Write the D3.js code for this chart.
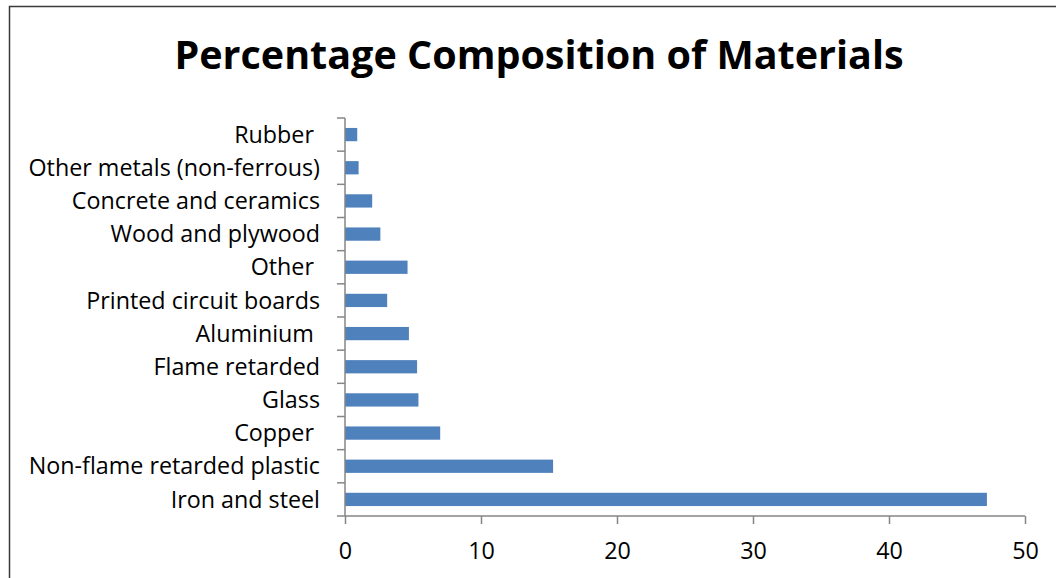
<!DOCTYPE html>
<html>
<head>
<meta charset="utf-8">
<script src="https://cdn.jsdelivr.net/npm/d3@7"></script>
<style>
  html, body { margin: 0; padding: 0; background: #fff; }
  svg { display: block; }
  text { font-family: "Open Sans", sans-serif; fill: #000; font-variant-ligatures: none; }
</style>
</head>
<body>
<svg id="chart" width="1056" height="578"></svg>
<script>
// Materials, listed top to bottom as they appear on the category axis
const categories = [
  "Rubber ",
  "Other metals (non-ferrous)",
  "Concrete and ceramics",
  "Wood and plywood",
  "Other ",
  "Printed circuit boards",
  "Aluminium ",
  "Flame retarded",
  "Glass",
  "Copper ",
  "Non-flame retarded plastic",
  "Iron and steel"
];
// Percentage share of each material
const values = [0.9, 1.0, 2.0, 2.6, 4.6, 3.1, 4.7, 5.3, 5.4, 7.0, 15.3, 47.2];
const xTicks = [0, 10, 20, 30, 40, 50];
const titleText = "Percentage Composition of Materials";

const svg = d3.select("#chart");
const W = 1056, H = 578;

// Chart frame (only top and left edges fall inside the view)
svg.append("path")
  .attr("d", `M9.5,${H} L9.5,6.5 L${W},6.5`)
  .attr("fill", "none")
  .attr("stroke", "#3a3a3a")
  .attr("stroke-width", 1.5);

// Title
svg.append("text")
  .attr("x", 539)
  .attr("y", 69)
  .attr("text-anchor", "middle")
  .attr("font-size", 39.5)
  .attr("font-weight", "bold")
  .text(titleText);

const x = d3.scaleLinear().domain([0, 50]).range([345, 1025]);
const y = d3.scaleBand()
  .domain(categories)
  .range([118, 516])
  .paddingInner(0.6)
  .paddingOuter(0.3);

const axisColor = "#868686";
const labelSize = 23.3;

// Bars
svg.append("g")
  .selectAll("rect")
  .data(categories.map((c, i) => ({ c, v: values[i] })))
  .join("rect")
  .attr("x", x(0))
  .attr("y", d => y(d.c))
  .attr("width", d => x(d.v) - x(0))
  .attr("height", y.bandwidth())
  .attr("fill", "#4f81bd");

// Category axis: line plus tick marks at the band boundaries
const step = y.step();
const y0 = y.range()[0];
const gy = svg.append("g");
gy.append("line")
  .attr("x1", x(0)).attr("x2", x(0))
  .attr("y1", y0).attr("y2", y.range()[1])
  .attr("stroke", axisColor).attr("stroke-width", 1.5);
gy.selectAll("line.tick")
  .data(d3.range(categories.length + 1))
  .join("line")
  .attr("class", "tick")
  .attr("x1", x(0) - 8).attr("x2", x(0))
  .attr("y1", i => y0 + i * step).attr("y2", i => y0 + i * step)
  .attr("stroke", axisColor).attr("stroke-width", 1.5);
gy.selectAll("text")
  .data(categories)
  .join("text")
  .attr("x", 320)
  .attr("y", d => y(d) + y.bandwidth() / 2)
  .attr("dy", "0.35em")
  .attr("text-anchor", "end")
  .attr("font-size", labelSize)
  .attr("xml:space", "preserve")
  .style("white-space", "pre")
  .text(d => d);

// Value axis
const xAxis = d3.axisBottom(x)
  .tickValues(xTicks)
  .tickSize(8)
  .tickPadding(18)
  .tickFormat(d3.format("d"));
const gx = svg.append("g")
  .attr("transform", `translate(0,${y.range()[1]})`)
  .call(xAxis);
gx.select(".domain")
  .attr("d", `M${x(0)},0H${x(50)}`)
  .attr("stroke", axisColor).attr("stroke-width", 1.5);
gx.selectAll(".tick line").attr("stroke", axisColor).attr("stroke-width", 1.5);
gx.selectAll(".tick text")
  .attr("font-size", labelSize)
  .attr("font-family", "'Open Sans', sans-serif")
  .attr("fill", "#000");
</script>
</body>
</html>
